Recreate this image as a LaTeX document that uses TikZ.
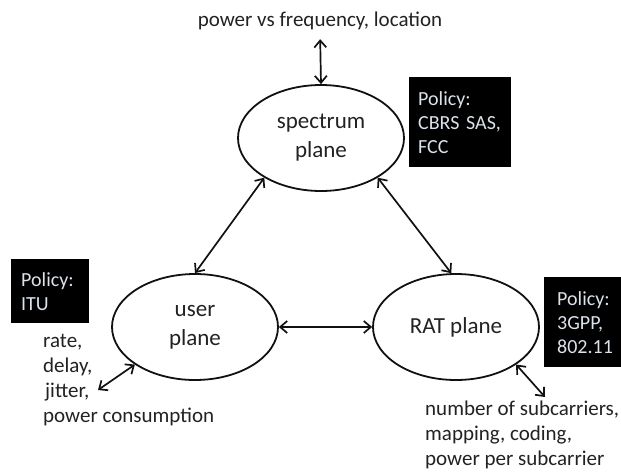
\documentclass[tikz,border=0pt]{standalone}
\usepackage{fontspec}
\setmainfont{Carlito}
\usepackage{tikz}
\usetikzlibrary{arrows.meta,positioning,shapes.geometric}
\definecolor{PlaneInk}{HTML}{111111}
\definecolor{NoteInk}{HTML}{222222}
\definecolor{PolicyFill}{HTML}{000000}
\definecolor{PolicyText}{HTML}{DCE2EA}
\tikzset{
  planeoval/.style={ellipse,draw=PlaneInk,line width=1.8pt,minimum width=166pt,minimum height=106pt,inner sep=0pt,align=center,text=NoteInk,font=\fontsize{23}{29}\selectfont,fill=white},
  policybox/.style={fill=PolicyFill,draw=none,anchor=north west,align=left,inner ysep=0pt,text=PolicyText,font=\fontsize{20}{24}\selectfont},
  notetext/.style={align=left,inner sep=0pt,text=NoteInk,font=\fontsize{21}{25}\selectfont},
  linkarrow/.style={{Straight Barb[length=7pt,width=12pt]}-{Straight Barb[length=7pt,width=12pt]},line width=1.7pt,draw=PlaneInk}
}
\begin{document}
\begin{tikzpicture}[x=1pt,y=-1pt]
\useasboundingbox (0,0) rectangle (621,472);
% the three planes
\node[planeoval] (spec) at (321,138) {spectrum\\plane};
\node[planeoval] (user) at (195,327) {user\\plane};
\node[planeoval] (rat) at (456,327) {RAT plane};
% policy boxes
\node[policybox,text width=84pt,inner xsep=9pt,minimum height=90pt] (specpol) at (409,77) {Policy:\\CBRS~SAS,\\FCC};
\node[policybox,text width=58pt,inner xsep=10pt,minimum height=64pt] (userpol) at (11,259) {Policy:\\ITU};
\node[policybox,text width=64pt,inner xsep=13pt,minimum height=90pt] (ratpol) at (544,277) {Policy:\\3GPP,\\802.11};
% outside quantities
\node[notetext] (freq) at (320,21) {power vs frequency, location};
\node[notetext,anchor=west] (usernote) at (43,380) {rate,\\delay,\\\hspace{2pt}jitter,\\power consumption};
\node[notetext,anchor=west] (ratnote) at (425,435) {number of subcarriers,\\mapping, coding,\\power per subcarrier};
\coordinate (userend) at (98,390);
\coordinate (ratend) at (545,397);
% links
\draw[linkarrow] (spec.215) -- (user.north);
\draw[linkarrow] (spec.-35) -- (rat.95);
\draw[linkarrow] (user.east) -- (rat.west);
\draw[linkarrow,shorten <=9pt] (freq.south) -- (spec.north);
\draw[linkarrow] (user.212) -- (userend);
\draw[linkarrow] (rat.-32) -- (ratend);
\end{tikzpicture}
\end{document}
